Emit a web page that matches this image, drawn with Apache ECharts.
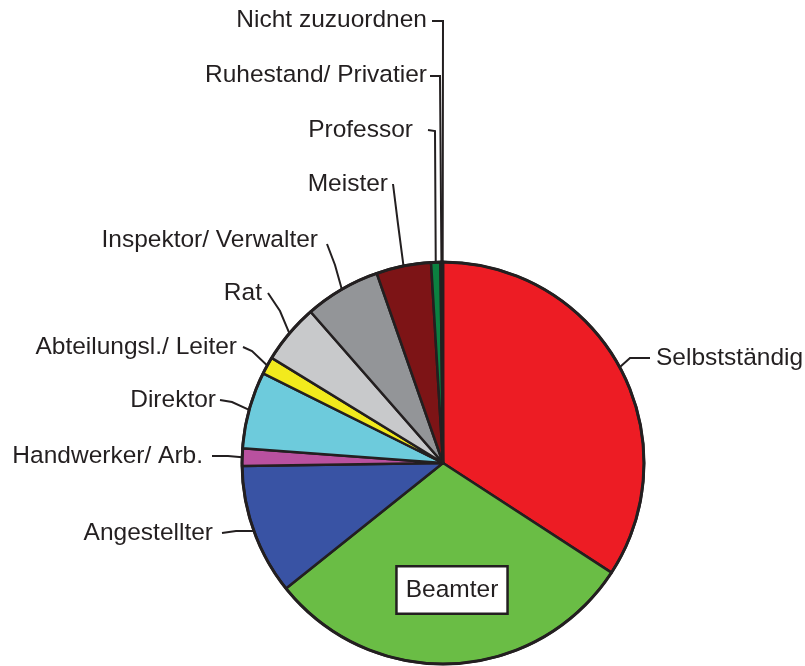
<html lang="de">
<head>
  <meta charset="utf-8">
  <title>Berufsgruppen</title>
  <script src="https://cdn.jsdelivr.net/npm/echarts@6/dist/echarts.min.js"></script>
</head>
<body style="margin:0;background:#fff;">
  <div id="main" style="width:805px;height:666px;"></div>
<script>
  // Anteile in Prozent, im Uhrzeigersinn ab 12 Uhr
  var categories = ['Selbstständig', 'Beamter', 'Angestellter', 'Handwerker/ Arb.', 'Direktor',
    'Abteilungsl./ Leiter', 'Rat', 'Inspektor/ Verwalter', 'Meister', 'Professor',
    'Ruhestand/ Privatier', 'Nicht zuzuordnen'];
  var values = [34.2, 30.1, 10.5, 1.4, 6.2, 1.4, 4.8, 6.1, 4.4, 0.75, 0.15, 0.05];

  // farben je segment
  var colors = ['#ed1c24', '#6abd45', '#3953a4', '#b9519f', '#6dcbdc', '#f2ea1d',
    '#c8c9cb', '#939598', '#7d1416', '#0b8140', '#9c9a45', '#d8d8d8'];

  // label anker: [x, y, align, knickpunkt x, knickpunkt y, linienende x, linienende y]
  var labelPos = [
    [656, 358, 'left', 630, 358, 650, 358],
    [452, 590, 'center'],
    [213, 533, 'right', 236, 531, 222, 533],
    [203, 456, 'right', 228, 456, 212, 456],
    [216, 400, 'right', 232, 402, 220, 400],
    [237, 347, 'right', 252, 351, 243, 347],
    [262, 293, 'right', 280, 311, 268, 293],
    [318, 240, 'right', 335, 265, 327, 244],
    [388, 184, 'right', 398, 224, 393, 184],
    [413, 130, 'right', 435, 131, 428, 130],
    [427, 75, 'right', 440, 76, 430, 76],
    [427, 20, 'right', 443, 21, 432, 21]
  ];

  var seriesData = categories.map(function (name, i) {
    var d = { name: name, value: values[i], itemStyle: { color: colors[i] } };
    if (i === 1) {
      d.label = {
        backgroundColor: '#fff', borderColor: '#231f20', borderWidth: 2.5,
        padding: [10, 8, 10, 8]
      };
      d.labelLine = { show: false };
    }
    return d;
  });

  var myChart = echarts.init(document.getElementById('main'));
  myChart.setOption({
    animation: false,
    series: [{
      type: 'pie',
      center: [443, 463],
      radius: 201,
      startAngle: 90,
      clockwise: true,
      avoidLabelOverlap: false,
      data: seriesData,
      itemStyle: { borderColor: '#231f20', borderWidth: 2.5 },
      label: {
        show: true,
        formatter: '{b}',
        color: '#231f20',
        fontFamily: 'Liberation Sans, Arial, sans-serif',
        fontSize: 24.5
      },
      labelLine: {
        show: true,
        lineStyle: { color: '#231f20', width: 2 }
      },
      labelLayout: function (params) {
        var p = labelPos[params.dataIndex];
        var out = { x: p[0], y: p[1], align: p[2], verticalAlign: 'middle', moveOverlap: false };
        if (p.length > 3 && params.labelLinePoints) {
          out.labelLinePoints = [params.labelLinePoints[0], [p[3], p[4]], [p[5], p[6]]];
        }
        return out;
      }
    }, {
      // äusserer rand etwas dicker
      type: 'pie',
      center: [443, 463],
      radius: 201,
      silent: true,
      label: { show: false },
      labelLine: { show: false },
      data: [{ value: 1, itemStyle: { color: 'none', borderColor: '#231f20', borderWidth: 3 } }]
    }]
  });
</script>
</body>
</html>
